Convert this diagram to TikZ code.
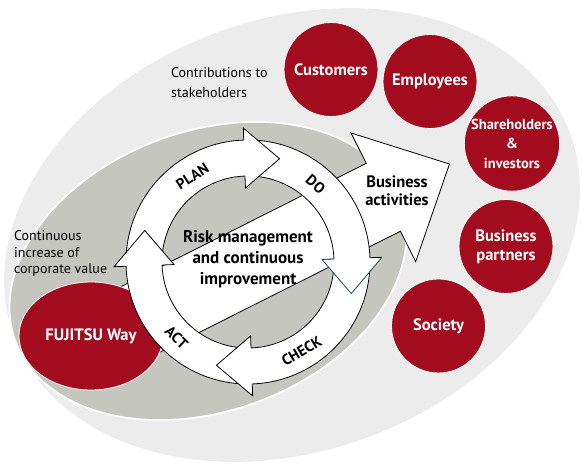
\documentclass[tikz,border=0pt]{standalone}
\usepackage{fontspec}
\setmainfont{PT Sans}
\usetikzlibrary{shapes.geometric}
\definecolor{fjred}{RGB}{163,12,30}
\definecolor{lightbg}{RGB}{236,236,236}
\definecolor{midgray}{RGB}{198,198,192}
\definecolor{vline}{RGB}{30,78,92}
\begin{document}
\begin{tikzpicture}[
   x=1pt,y=1pt,
   party/.style={circle,fill=fjred,draw=white,line width=0.8pt,minimum size=94pt,inner sep=0pt,
     text=white,align=center,font=\bfseries\fontsize{16.5}{19}\selectfont},
   note/.style={anchor=west,align=left,inner sep=1pt,font=\fontsize{14}{16.7}\selectfont},
   phase/.style={inner sep=0pt,font=\bfseries\fontsize{15}{15}\selectfont},
   outline/.style={draw=black,line width=0.8pt,fill=white},
   bold/.style={align=center,font=\bfseries\fontsize{17}{21}\selectfont}
 ]
  \useasboundingbox (0,0) rectangle (582,468);
  % backgrounds
  \fill[lightbg,rotate around={20:(292,233)}] (292,233) ellipse [x radius=296,y radius=216];
  \filldraw[fill=midgray,draw=white,line width=1.8pt,rotate around={20:(208,197)}]
    (208,197) ellipse [x radius=205,y radius=140];
  % business activities arrow
  \begin{scope}[shift={(248,206)},rotate=26.7,yshift=-3pt]
    \filldraw[outline] (-150,38) -- (150,38) -- (150,72) -- (224,0) -- (150,-72)
      -- (150,-38) -- (-150,-38) -- cycle;
  \end{scope}
  \node[ellipse,fill=fjred,draw=white,line width=0.8pt,minimum width=144pt,minimum height=108pt,
    text=white,font=\bfseries\fontsize{16.5}{19}\selectfont] (fjway) at (91,132) {FUJITSU Way};
  % PDCA ring
  \begin{scope}[shift={(248,206)}]
    \filldraw[outline,even odd rule] (0,0) circle (122) (0,0) circle (86);
    \foreach \b in {92,-88,182}
      \filldraw[outline] (\b:122) -- (\b:134) -- (\b-19:108) -- (\b:74) -- (\b:86);
    \fill[white] (2:122) -- (2:134) -- (-17:108) -- (2:74) -- (2:86) -- cycle;
    \draw[line width=0.8pt] (2:122) -- (2:134);
    \draw[line width=0.8pt] (2:74) -- (2:86);
    \draw[vline,line width=0.8pt] (2:134) -- (-17:108) -- (2:74);
    \node[phase,rotate=33] (plan) at (123:102) {PLAN};
    \node[phase,rotate=-41] (do) at (49:103) {DO};
    \node[phase,rotate=31] (check) at (-59:104) {CHECK};
    \node[phase,rotate=-43.4] (act) at (226.6:104) {ACT};
    \node[bold] (risk) at (0,2.5) {Risk management\\and continuous\\improvement};
  \end{scope}
  \node[bold,font=\bfseries\fontsize{16.5}{18.5}\selectfont] (busact) at (397,277) {Business\\activities};
  \node[note,font=\fontsize{14}{20}\selectfont] (contrib) at (170,385) {Contributions to\\stakeholders};
  \node[note] (corpval) at (13,214.5) {Continuous\\increase of\\corporate value};
  % stakeholders
  \node[party] (cust) at (331,398.5) {Customers};
  \node[party] (empl) at (430,386.5) {Employees};
  \node[party,font=\bfseries\fontsize{14.5}{19.5}\selectfont] (share) at (512,324.5) {Shareholders\\\&\\investors};
  \node[party] (partner) at (506,221.5) {Business\\partners};
  \node[party] (society) at (438.5,142) {Society};
\end{tikzpicture}
\end{document}
